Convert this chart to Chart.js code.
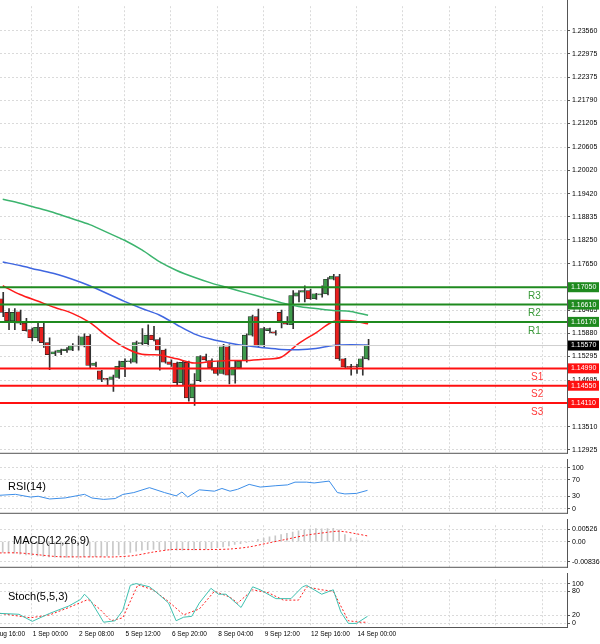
<!DOCTYPE html>
<html><head><meta charset="utf-8">
<script src="https://cdn.jsdelivr.net/npm/chart.js@4/dist/chart.umd.min.js"></script>
<style>
html,body{margin:0;padding:0;background:#fff;}
#wrap{position:relative;width:600px;height:644px;overflow:hidden;background:#fff;}
canvas{position:absolute;left:0;}
</style></head><body>
<div id="wrap">
<canvas id="cMain" width="600" height="459" style="top:0"></canvas>
<canvas id="cRsi" width="600" height="60" style="top:459px"></canvas>
<canvas id="cMacd" width="600" height="54" style="top:519px"></canvas>
<canvas id="cSto" width="600" height="71" style="top:573px"></canvas>
</div>
<script>
// ---------- DATA ----------
const opens  = [1.16758,1.16412,1.16197,1.16428,1.16139,1.15974,1.15768,1.16032,1.15644,1.15356,1.15397,1.15438,1.15455,1.15554,1.15562,1.15809,1.15067,1.14927,1.14720,1.14712,1.14762,1.15025,1.15158,1.15149,1.15620,1.15620,1.15834,1.15719,1.15455,1.15158,1.15125,1.14630,1.15141,1.14242,1.14679,1.15290,1.15191,1.15009,1.14861,1.15537,1.14819,1.15009,1.15191,1.15834,1.16304,1.15562,1.15950,1.15917,1.16412,1.16181,1.16098,1.16824,1.16923,1.16964,1.16758,1.16857,1.16882,1.17253,1.17319,1.15232,1.15025,1.15042,1.15025,1.15232];
const highs  = [1.16923,1.16511,1.16511,1.16469,1.16263,1.16016,1.16139,1.16139,1.15768,1.15438,1.15479,1.15521,1.15620,1.15809,1.15867,1.15851,1.15149,1.14943,1.14737,1.14819,1.15174,1.15232,1.15232,1.15686,1.15999,1.16098,1.16057,1.15768,1.15479,1.15207,1.15149,1.15174,1.15174,1.14861,1.15314,1.15356,1.15232,1.15174,1.15603,1.15587,1.15191,1.15191,1.15867,1.16346,1.16494,1.16032,1.16016,1.15950,1.16469,1.16304,1.16964,1.16964,1.17088,1.17006,1.16898,1.17088,1.17294,1.17377,1.17377,1.15248,1.15092,1.15092,1.15290,1.15727];
const lows   = [1.16304,1.15974,1.15974,1.16098,1.15933,1.15686,1.15686,1.15521,1.14960,1.15314,1.15339,1.15397,1.15438,1.15455,1.15537,1.14984,1.15025,1.14654,1.14572,1.14407,1.14737,1.14778,1.15125,1.15125,1.15587,1.15562,1.15686,1.14943,1.15125,1.15042,1.14572,1.14572,1.14159,1.14052,1.14654,1.15174,1.14943,1.14819,1.14844,1.14597,1.14613,1.14984,1.15149,1.15809,1.15537,1.15521,1.15892,1.15834,1.16016,1.16098,1.15999,1.16676,1.16676,1.16742,1.16742,1.16799,1.16857,1.17237,1.15191,1.14984,1.14819,1.14861,1.14819,1.15207];
const closes = [1.16412,1.16197,1.16412,1.16139,1.15950,1.15768,1.16032,1.15644,1.15339,1.15413,1.15455,1.15479,1.15562,1.15578,1.15793,1.15067,1.15125,1.14712,1.14712,1.14778,1.15042,1.15166,1.15174,1.15644,1.15628,1.15834,1.15719,1.15455,1.15149,1.15092,1.14630,1.15141,1.14242,1.14597,1.15290,1.15207,1.15009,1.14861,1.15537,1.14819,1.15025,1.15174,1.15834,1.16304,1.15562,1.15999,1.15999,1.15884,1.16197,1.16115,1.16841,1.16907,1.16964,1.16758,1.16882,1.16882,1.17253,1.17336,1.15232,1.15025,1.15017,1.15025,1.15232,1.15587];
const maIdx   = [0,3,6,9,12,15,18,21,24,27,30,33,36,39,42,45,48,51,54,57,60,63];
const maRed   = [1.17088,1.16865,1.16700,1.16535,1.16387,1.16156,1.15809,1.15521,1.15347,1.15330,1.15232,1.15125,1.15166,1.15191,1.15191,1.15224,1.15273,1.15620,1.15892,1.16181,1.16197,1.16123];
const maBlue  = [1.17690,1.17600,1.17492,1.17393,1.17253,1.17088,1.16890,1.16692,1.16511,1.16346,1.16098,1.15867,1.15727,1.15636,1.15562,1.15512,1.15471,1.15463,1.15496,1.15570,1.15587,1.15578];
const maGreen = [1.19283,1.19184,1.19060,1.18936,1.18788,1.18639,1.18441,1.18243,1.17996,1.17699,1.17476,1.17303,1.17154,1.17030,1.16907,1.16783,1.16659,1.16560,1.16511,1.16461,1.16436,1.16337];
const resist = [1.17050,1.16610,1.16170];
const resistNames = ["R3","R2","R1"];
const support = [1.14990,1.14550,1.14110];
const supportNames = ["S1","S2","S3"];
const lastPrice = 1.15570;
const priceTicks = [1.23560,1.22975,1.22375,1.21790,1.21205,1.20605,1.20020,1.19420,1.18835,1.18250,1.17650,1.17050,1.16465,1.15880,1.15295,1.14695,1.14110,1.13510,1.12925];
const rsiX = [-0.5,2.2,4.8,6.1,8.1,10.8,14.1,15.4,17.4,19.4,20.7,22.6,25.3,27.9,29.9,30.9,31.9,33.9,36.5,37.8,39.2,40.5,42.5,44.4,47.1,49.1,50.4,52.4,53.7,56.3,57.7,59,61,62.9];
const rsiY = [32.7,35,28.3,30.3,23.7,26.3,35,26,22.7,24.7,34.7,39.3,51.3,39.3,31.3,40.7,28.3,46,42.7,49.3,42.7,47.3,59.3,52.7,56,58,64.7,64.7,62.7,67.3,39.3,36,37.3,44.7];
const macdHist = [-0.0045,-0.0046,-0.0048,-0.0052,-0.0055,-0.0058,-0.0060,-0.0062,-0.0064,-0.0065,-0.0066,-0.0066,-0.0065,-0.0064,-0.0063,-0.0064,-0.0063,-0.0062,-0.0060,-0.0058,-0.0055,-0.0050,-0.0045,-0.0040,-0.0036,-0.0033,-0.0032,-0.0033,-0.0034,-0.0035,-0.0036,-0.0036,-0.0035,-0.0034,-0.0032,-0.0030,-0.0028,-0.0025,-0.0022,-0.0018,-0.0012,-0.0008,-0.0003,0.0003,0.0010,0.0015,0.0020,0.0025,0.0030,0.0035,0.0040,0.0045,0.0050,0.0053,0.0055,0.0054,0.0055,0.0056,0.0050,0.0030,0.0015,0.0008,0.0004,0.0002];
const sigX = [-0.5,2.8,6.1,9.4,12.7,16.0,19.4,22.6,25.9,29.2,32.6,35.9,39.2,42.5,45.8,49.1,52.4,55.7,57.7,59,61,62.9];
const sigY = [-0.00471,-0.00471,-0.00548,-0.00625,-0.00636,-0.00636,-0.00636,-0.00581,-0.00438,-0.00329,-0.00329,-0.00329,-0.00307,-0.00219,-0.00055,0.00110,0.00274,0.00384,0.00438,0.00416,0.00329,0.00241];
const stoKX = [-0.5,2.8,5.1,8.1,11.4,13.4,14.1,15.1,17.4,19.4,20.7,22,23,25.3,26.6,28.6,29.9,31.2,32.6,33.9,35.9,37.2,38.5,41.1,43.1,44.4,47.1,49.7,51.7,52.4,55,57,58.3,59.6,61,62.9];
const stoKY = [25.2,22.9,5.2,25.2,43.7,60,73.3,58.5,3,6.7,32.6,95.6,100,91.9,77,51.1,6.7,15.6,17.8,51.1,88.1,73.3,73.3,40,91.9,84.4,62.2,62.2,91.9,95.6,73.3,84.4,28.9,0,0,17.8];
const stoDX = [-0.5,4.8,8.1,11.4,14.7,16.7,18.7,20.7,23.3,25.9,28.6,31.2,33.9,36.5,39.2,40.5,43.1,45.8,48.4,51,52.4,55,57,59.6,61.6,62.9];
const stoDY = [25.2,14.1,21.5,40,60,36.3,6.7,14.1,97,84.4,54.8,21.5,36.3,80.7,65.9,51.1,84.4,77,58.5,58.5,91.9,84.4,80.7,6.7,3,3];
const dateTickIdx = [-3,5,13,21,29,37,45,53,61];
const dateLabels = ["31 Aug 16:00","1 Sep 00:00","2 Sep 08:00","5 Sep 12:00","6 Sep 20:00","8 Sep 04:00","9 Sep 12:00","12 Sep 16:00","14 Sep 00:00"];
const gridIdx = [-3,5,13,21,29,37,45,53,61,69,77,85,93];

// ---------- HELPERS ----------
const XMIN=-0.47, XMAX=97.3, AXW=33;
const FONT='"Liberation Sans", Arial, sans-serif';
Chart.defaults.animation=false;
Chart.defaults.responsive=false;
Chart.defaults.maintainAspectRatio=false;
Chart.defaults.plugins.legend.display=false;
Chart.defaults.plugins.tooltip.enabled=false;
Chart.defaults.elements.point.radius=0;
const GRID='#dadada';
function pts(xs,ys){return xs.map((x,i)=>({x:x,y:ys[i]}));}
function xScale(){
  return {type:'linear',min:XMIN,max:XMAX,display:true,offset:false,bounds:'ticks',
    afterBuildTicks:s=>{s.ticks=gridIdx.map(v=>({value:v}));},
    ticks:{display:false},
    grid:{color:GRID,drawTicks:false,lineWidth:1,offset:false},
    border:{display:false,dash:[2,2]}};
}
function yScale(min,max,ticks,fmt){
  return {type:'linear',position:'right',min:min,max:max,
    afterFit:s=>{s.width=AXW;},
    afterBuildTicks:s=>{s.ticks=ticks.map(v=>({value:v}));},
    ticks:{font:{size:7,family:FONT},color:'#000',padding:2,callback:fmt},
    grid:{color:GRID,tickLength:3,tickColor:'#555',lineWidth:1},
    border:{display:true,color:'#555',width:1,dash:[2,2]}};
}
const frame={id:'frame',afterDraw(c){
  const a=c.chartArea,ctx=c.ctx;ctx.save();ctx.strokeStyle='#555';ctx.lineWidth=1;ctx.setLineDash([]);
  ctx.beginPath();ctx.moveTo(a.right+0.5,0);ctx.lineTo(a.right+0.5,a.bottom+1);
  ctx.moveTo(0,a.bottom+0.5);ctx.lineTo(a.right+1,a.bottom+0.5);ctx.stroke();ctx.restore();}};
function label(text,x,y,size,color){return {id:'lbl'+text,afterDraw(c){const ctx=c.ctx;ctx.save();ctx.font=size+'px '+FONT;ctx.fillStyle=color||'#000';ctx.textBaseline='middle';ctx.fillText(text,x,y);ctx.restore();}};}

// ---------- MAIN ----------
const bull='#3f9b4c', bear='#e8201e';
const candleCol=closes.map((c,i)=>c>=opens[i]?bull:bear);
const xsC=opens.map((_,i)=>i);
const levelDs=(v,col,w)=>({type:'line',data:[{x:XMIN,y:v},{x:XMAX,y:v}],borderColor:col,borderWidth:w,pointRadius:0,order:0});
const mainDatasets=[
  {type:'bar',data:xsC.map(i=>({x:i,y:[lows[i],highs[i]]})),backgroundColor:'#333',barThickness:1,order:3},
  {type:'bar',data:xsC.map(i=>({x:i,y:[opens[i],closes[i]]})),backgroundColor:candleCol,borderColor:'#222',borderWidth:0.6,borderSkipped:false,barThickness:4,minBarLength:1,order:2},
  {type:'line',data:pts(maIdx,maGreen),borderColor:'#3cb46e',borderWidth:1.5,tension:0.3,order:1},
  {type:'line',data:pts(maIdx,maBlue),borderColor:'#3f66e0',borderWidth:1.5,tension:0.3,order:1},
  {type:'line',data:pts(maIdx,maRed),borderColor:'#ff1a1a',borderWidth:1.5,tension:0.3,order:1},
  levelDs(lastPrice,'#cfcfcf',1),
  ...resist.map(v=>levelDs(v,'#1f8a1f',2)),
  ...support.map(v=>levelDs(v,'#ff1010',2))
];
const boxes={id:'boxes',afterDraw(c){
  const ctx=c.ctx,y=c.scales.y,a=c.chartArea;ctx.save();ctx.font='7px '+FONT;ctx.textBaseline='middle';
  const box=(v,bg)=>{const py=y.getPixelForValue(v);ctx.fillStyle=bg;ctx.fillRect(a.right+1,py-5,31,10);ctx.fillStyle='#fff';ctx.fillText(v.toFixed(5),a.right+4,py);};
  resist.forEach(v=>box(v,'#1f8a1f'));support.forEach(v=>box(v,'#ff1010'));box(lastPrice,'#000');
  ctx.font='10px '+FONT;
  resist.forEach((v,i)=>{ctx.fillStyle='#3a9a3a';ctx.fillText(resistNames[i],528,y.getPixelForValue(v)+9);});
  support.forEach((v,i)=>{ctx.fillStyle='#ff3b3b';ctx.fillText(supportNames[i],531,y.getPixelForValue(v)+9);});
  ctx.restore();}};
new Chart(document.getElementById('cMain'),{type:'bar',data:{datasets:mainDatasets},
  options:{layout:{padding:0},scales:{x:xScale(),y:yScale(1.12847,1.24184,priceTicks,v=>v.toFixed(5))}},
  plugins:[frame,boxes]});

// ---------- RSI ----------
new Chart(document.getElementById('cRsi'),{type:'line',data:{datasets:[
  {data:pts(rsiX,rsiY),borderColor:'#3d8ee8',borderWidth:1}]},
  options:{layout:{padding:0},scales:{x:xScale(),y:yScale(-10,106,[100,70,30,0],v=>String(v))}},
  plugins:[frame,label('RSI(14)',8,28,11)]});

// ---------- MACD ----------
new Chart(document.getElementById('cMacd'),{type:'bar',data:{datasets:[
  {type:'bar',data:macdHist.map((v,i)=>({x:i,y:v})),backgroundColor:'#c8c8c8',barThickness:1,order:2},
  {type:'line',data:pts(sigX,sigY),borderColor:'#ff2020',borderWidth:1,borderDash:[2,2],tension:0.3,order:1}]},
  options:{layout:{padding:0},scales:{x:xScale(),y:yScale(-0.01052,0.0069,[0.00526,0,-0.008361],v=>v===0?'0.00':String(v))}},
  plugins:[frame,label('MACD(12,26,9)',13,22,11)]});

// ---------- STOCH ----------
const dates={id:'dates',afterDraw(c){const ctx=c.ctx,x=c.scales.x;ctx.save();ctx.font='6.5px '+FONT;ctx.fillStyle='#000';ctx.textBaseline='middle';
  dateTickIdx.forEach((v,i)=>ctx.fillText(dateLabels[i],x.getPixelForValue(v)+1,61));ctx.restore();}};
new Chart(document.getElementById('cSto'),{type:'line',data:{datasets:[
  {data:pts(stoKX,stoKY),borderColor:'#40c0b0',borderWidth:1},
  {data:pts(stoDX,stoDY),borderColor:'#ff2020',borderWidth:1,borderDash:[2,2]}]},
  options:{layout:{padding:{bottom:17}},scales:{x:xScale(),y:yScale(-9,111,[100,80,20,0],v=>String(v))}},
  plugins:[frame,dates,label('Stoch(5,5,3)',8,24,11)]});
</script>
</body></html>
